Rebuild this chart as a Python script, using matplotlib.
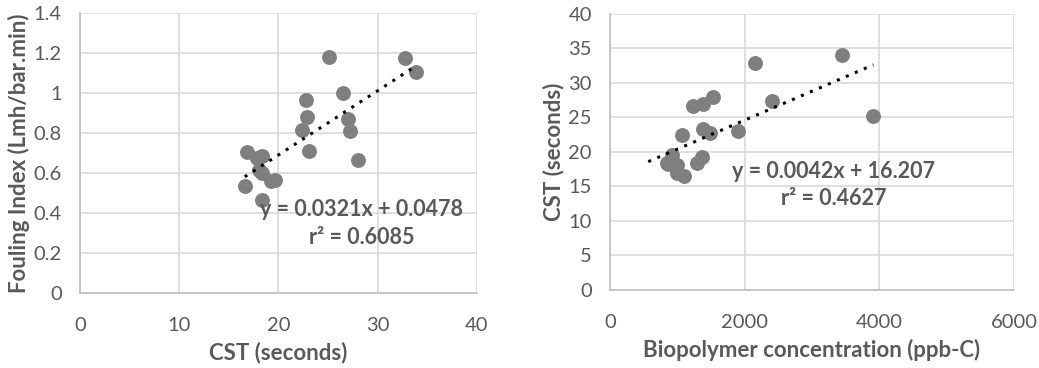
import numpy as np
import matplotlib.pyplot as plt

# left panel: CST vs fouling index
cst_left = [16.8, 16.6, 17.8, 18.3, 18.3, 18.3, 18.0, 19.2, 19.7, 22.35,
            22.8, 22.9, 23.1, 25.1, 26.5, 27.0, 27.2, 28.0, 32.8, 33.9]
fouling = [0.703, 0.533, 0.675, 0.683, 0.60, 0.463, 0.617, 0.558, 0.567, 0.813,
           0.963, 0.878, 0.708, 1.18, 1.0, 0.87, 0.812, 0.667, 1.172, 1.103]
fit_left = (0.0321, 0.0478)
fit_left_range = [16.6, 33.6]
eq_left = ["y = 0.0321x + 0.0478", "r² = 0.6085"]

# right panel: biopolymer vs CST
biopolymer = [842, 916, 870, 990, 1000, 1104, 1074, 1238, 1386, 1535,
              1376, 1485, 1287, 1371, 1906, 2153, 2401, 3450, 3911]
cst_right = [18.4, 19.6, 18.3, 18.1, 16.9, 16.5, 22.5, 26.7, 27.0, 28.0,
             23.3, 22.7, 18.4, 19.3, 23.0, 32.9, 27.4, 34.0, 25.2]
fit_right = (0.0042, 16.207)
fit_right_range = [570, 3911]
eq_right = ["y = 0.0042x + 16.207", "r² = 0.4627"]

plt.rcParams['font.family'] = ['Lato', 'DejaVu Sans']
text_col = '#595959'
grid_col = '#d9d9d9'
dot_col = '#7f7f7f'

fig = plt.figure(figsize=(10.39, 3.68), dpi=100)
ax1 = fig.add_axes([0.077, 0.204, 0.382, 0.761])
ax2 = fig.add_axes([0.587, 0.212, 0.389, 0.750])


def style(ax, xlim, ylim, xticks, yticks, xlabel, ylabel):
    ax.set_xlim(*xlim)
    ax.set_ylim(*ylim)
    ax.set_xticks(xticks)
    ax.set_yticks(yticks)
    ax.set_xticklabels([f"{t:g}" for t in xticks])
    ax.set_yticklabels([f"{t:g}" for t in yticks])
    ax.grid(True, color=grid_col, linewidth=1.2)
    ax.set_axisbelow(True)
    for s in ['top', 'right']:
        ax.spines[s].set_visible(False)
    for s in ['left', 'bottom']:
        ax.spines[s].set_color('#bfbfbf')
        ax.spines[s].set_linewidth(1.2)
    ax.tick_params(axis='x', length=0, labelsize=14.5, labelcolor=text_col, pad=17)
    ax.tick_params(axis='y', length=0, labelsize=14.5, labelcolor=text_col, pad=13)
    ax.set_xlabel(xlabel, fontsize=16, fontweight='bold', color=text_col, labelpad=6)
    ax.set_ylabel(ylabel, fontsize=16, fontweight='bold', color=text_col, labelpad=3)


def equation(ax, x, ys, lines):
    for y, line in zip(ys, lines):
        ax.text(x, y, line, ha='center', va='center', fontsize=15.5,
                fontweight='bold', color=text_col, zorder=5)


ax1.scatter(cst_left, fouling, s=115, color=dot_col, zorder=3, linewidths=0)
xs = np.array(fit_left_range)
ax1.plot(xs, fit_left[0] * xs + fit_left[1], color='black', linestyle=(0, (1, 2.2)),
         linewidth=2.2, zorder=4)
equation(ax1, 28.4, [0.4165, 0.277], eq_left)
style(ax1, (0, 40), (0, 1.4), [0, 10, 20, 30, 40],
      [0, 0.2, 0.4, 0.6, 0.8, 1.0, 1.2, 1.4],
      "CST (seconds)", "Fouling Index (Lmh/bar.min)")

ax2.scatter(biopolymer, cst_right, s=115, color=dot_col, zorder=3, linewidths=0)
xs = np.array(fit_right_range)
ax2.plot(xs, fit_right[0] * xs + fit_right[1], color='black', linestyle=(0, (1, 2.2)),
         linewidth=2.2, zorder=4)
equation(ax2, 3317, [17.15, 13.3], eq_right)
style(ax2, (0, 6000), (0, 40), [0, 2000, 4000, 6000],
      [0, 5, 10, 15, 20, 25, 30, 35, 40],
      "Biopolymer concentration (ppb-C)", "CST (seconds)")

fig.savefig("out.png", dpi=100)
